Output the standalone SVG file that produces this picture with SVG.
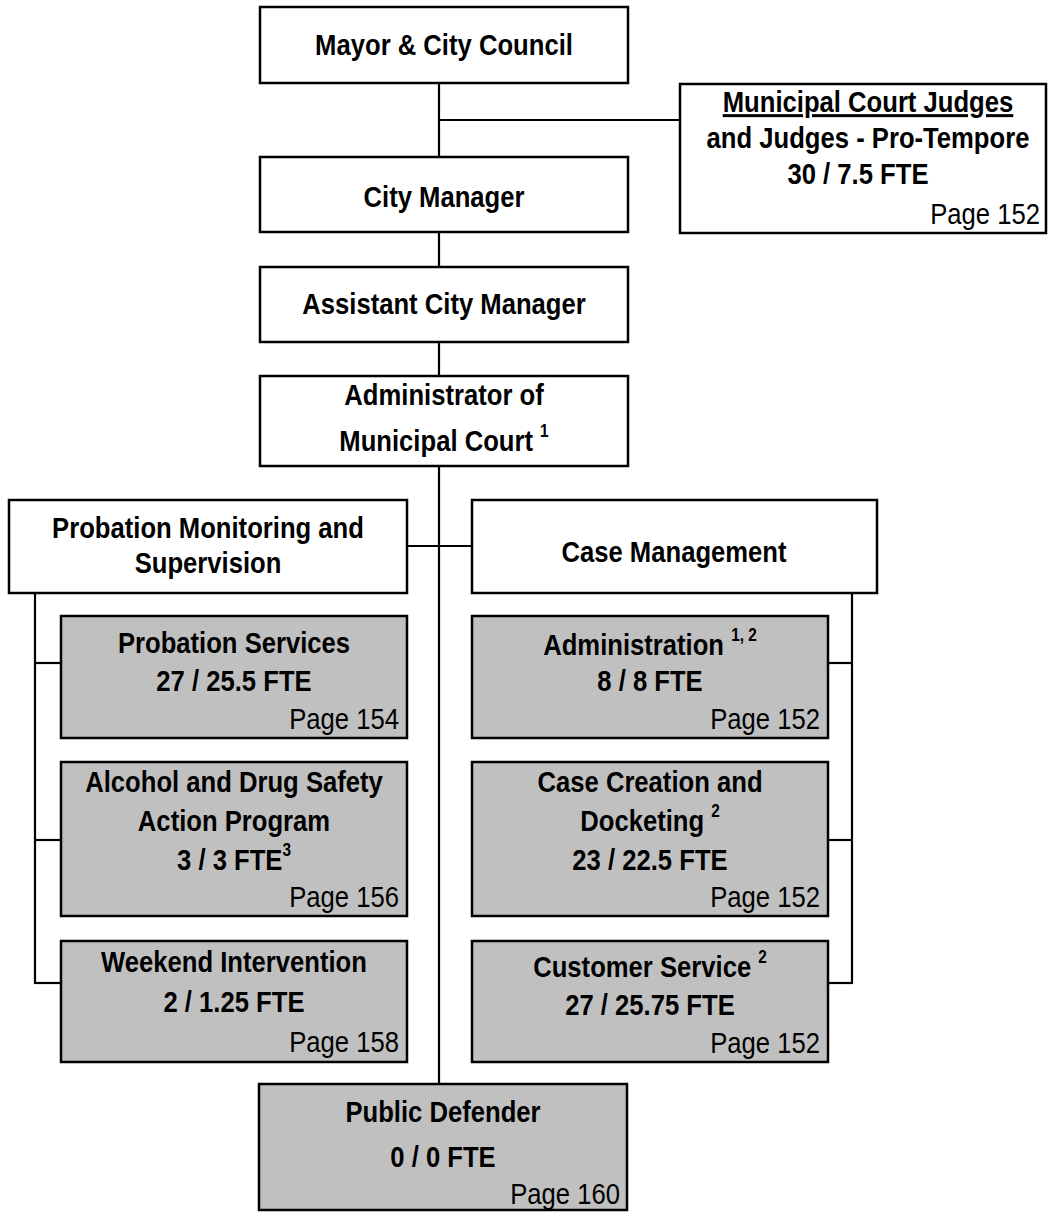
<svg xmlns="http://www.w3.org/2000/svg" width="1049" height="1212" viewBox="0 0 1049 1212">
<style>
.box{fill:#ffffff;stroke:#000;stroke-width:2.5}
.gbox{fill:#c0c0c0;stroke:#000;stroke-width:2.5}
.conn line{stroke:#000;stroke-width:2.2}
text{font-family:"Liberation Sans Narrow","Arial Narrow","Liberation Sans",sans-serif;font-size:30px;fill:#000}
.b{font-weight:bold;text-anchor:middle}
.pg{text-anchor:end}
.sup{font-size:18px;font-weight:bold}
</style>
<rect width="1049" height="1212" fill="#fff"/>
<g class="conn" id="connectors">
<line x1="439" y1="83" x2="439" y2="157"/>
<line x1="439" y1="120" x2="680" y2="120"/>
<line x1="439" y1="232" x2="439" y2="267"/>
<line x1="439" y1="342" x2="439" y2="376"/>
<line x1="439" y1="466" x2="439" y2="1084"/>
<line x1="407" y1="546" x2="472" y2="546"/>
<line x1="35" y1="593" x2="35" y2="984"/>
<line x1="34" y1="663" x2="61" y2="663"/>
<line x1="34" y1="840" x2="61" y2="840"/>
<line x1="34" y1="983" x2="61" y2="983"/>
<line x1="852" y1="593" x2="852" y2="984"/>
<line x1="828" y1="663" x2="853" y2="663"/>
<line x1="828" y1="840" x2="853" y2="840"/>
<line x1="828" y1="983" x2="853" y2="983"/>
</g>
<g id="mayor">
<rect class="box" x="260" y="7" width="368" height="76"/>
<text class="b" transform="translate(444 55) scale(0.855 1)">Mayor &amp; City Council</text>
</g>
<g id="judges">
<rect class="box" x="680" y="84" width="366" height="149"/>
<text class="b" transform="translate(868 112) scale(0.855 1)" text-decoration="underline">Municipal Court Judges</text>
<text class="b" transform="translate(868 148) scale(0.855 1)">and Judges - Pro-Tempore</text>
<text class="b" transform="translate(858 184) scale(0.855 1)">30 / 7.5 FTE</text>
<text class="pg" transform="translate(1040 224) scale(0.855 1)">Page 152</text>
</g>
<g id="city-manager">
<rect class="box" x="260" y="157" width="368" height="75"/>
<text class="b" transform="translate(444 207) scale(0.855 1)">City Manager</text>
</g>
<g id="assistant-city-manager">
<rect class="box" x="260" y="267" width="368" height="75"/>
<text class="b" transform="translate(444 314) scale(0.855 1)">Assistant City Manager</text>
</g>
<g id="administrator">
<rect class="box" x="260" y="376" width="368" height="90"/>
<text class="b" transform="translate(444 405) scale(0.855 1)">Administrator of</text>
<text class="b" transform="translate(444 451) scale(0.855 1)">Municipal Court <tspan class="sup" dy="-14">1</tspan></text>
</g>
<g id="probation-monitoring">
<rect class="box" x="9" y="500" width="398" height="93"/>
<text class="b" transform="translate(208 538) scale(0.855 1)">Probation Monitoring and</text>
<text class="b" transform="translate(208 573) scale(0.855 1)">Supervision</text>
</g>
<g id="case-management">
<rect class="box" x="472" y="500" width="405" height="93"/>
<text class="b" transform="translate(674 562) scale(0.855 1)">Case Management</text>
</g>
<g id="probation-services">
<rect class="gbox" x="61" y="616" width="346" height="122"/>
<text class="b" transform="translate(234 653) scale(0.855 1)">Probation Services</text>
<text class="b" transform="translate(234 691) scale(0.855 1)">27 / 25.5 FTE</text>
<text class="pg" transform="translate(399 729) scale(0.855 1)">Page 154</text>
</g>
<g id="alcohol-drug">
<rect class="gbox" x="61" y="762" width="346" height="154"/>
<text class="b" transform="translate(234 792) scale(0.855 1)">Alcohol and Drug Safety</text>
<text class="b" transform="translate(234 831) scale(0.855 1)">Action Program</text>
<text class="b" transform="translate(234 870) scale(0.855 1)">3 / 3 FTE<tspan class="sup" dy="-14">3</tspan></text>
<text class="pg" transform="translate(399 907) scale(0.855 1)">Page 156</text>
</g>
<g id="weekend-intervention">
<rect class="gbox" x="61" y="941" width="346" height="121"/>
<text class="b" transform="translate(234 972) scale(0.855 1)">Weekend Intervention</text>
<text class="b" transform="translate(234 1012) scale(0.855 1)">2 / 1.25 FTE</text>
<text class="pg" transform="translate(399 1052) scale(0.855 1)">Page 158</text>
</g>
<g id="administration">
<rect class="gbox" x="472" y="616" width="356" height="122"/>
<text class="b" transform="translate(650 655) scale(0.855 1)">Administration <tspan class="sup" dy="-14">1, 2</tspan></text>
<text class="b" transform="translate(650 691) scale(0.855 1)">8 / 8 FTE</text>
<text class="pg" transform="translate(820 729) scale(0.855 1)">Page 152</text>
</g>
<g id="case-creation">
<rect class="gbox" x="472" y="762" width="356" height="154"/>
<text class="b" transform="translate(650 792) scale(0.855 1)">Case Creation and</text>
<text class="b" transform="translate(650 831) scale(0.855 1)">Docketing <tspan class="sup" dy="-14">2</tspan></text>
<text class="b" transform="translate(650 870) scale(0.855 1)">23 / 22.5 FTE</text>
<text class="pg" transform="translate(820 907) scale(0.855 1)">Page 152</text>
</g>
<g id="customer-service">
<rect class="gbox" x="472" y="941" width="356" height="121"/>
<text class="b" transform="translate(650 977) scale(0.855 1)">Customer Service <tspan class="sup" dy="-14">2</tspan></text>
<text class="b" transform="translate(650 1015) scale(0.855 1)">27 / 25.75 FTE</text>
<text class="pg" transform="translate(820 1053) scale(0.855 1)">Page 152</text>
</g>
<g id="public-defender">
<rect class="gbox" x="259" y="1084" width="368" height="126"/>
<text class="b" transform="translate(443 1122) scale(0.855 1)">Public Defender</text>
<text class="b" transform="translate(443 1167) scale(0.855 1)">0 / 0 FTE</text>
<text class="pg" transform="translate(620 1204) scale(0.855 1)">Page 160</text>
</g>
</svg>
